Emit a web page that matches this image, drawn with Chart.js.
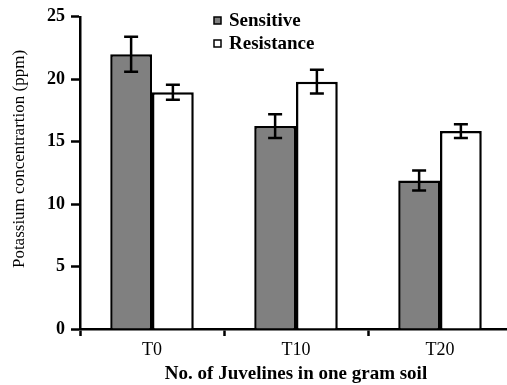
<!DOCTYPE html>
<html>
<head>
<meta charset="utf-8">
<script src="https://cdn.jsdelivr.net/npm/chart.js@4/dist/chart.umd.min.js"></script>
<style>
  html, body { margin: 0; padding: 0; background: #fff; overflow: hidden; }
  canvas { display: block; }
</style>
</head>
<body>
<canvas id="chart" width="512" height="385"></canvas>
<script>
(function() {
    'use strict';

    // ============================================================================
    // DATA
    // ============================================================================

    var categories = ['T0', 'T10', 'T20'];
    var sensitiveValues = [22.0, 16.25, 11.9];
    var sensitiveErrors = [1.4, 0.95, 0.8];
    var resistanceValues = [18.95, 19.8, 15.85];
    var resistanceErrors = [0.6, 0.95, 0.55];
    var yTicks = [0, 5, 10, 15, 20, 25];
    var yTitle = 'Potassium concentrartion (ppm)';

    var SERIF = '"Liberation Serif", "Times New Roman", serif';

    // ============================================================================
    // PLUGINS
    // ============================================================================

    // error bars drawn from the errors array attached to each dataset
    var errorBarPlugin = {
        id: 'errorBars',
        afterDatasetsDraw: function(chart) {
            var ctx = chart.ctx;
            var yScale = chart.scales.y;
            ctx.save();
            ctx.strokeStyle = '#000';
            ctx.lineWidth = 2.5;
            chart.data.datasets.forEach(function(ds, i) {
                var meta = chart.getDatasetMeta(i);
                meta.data.forEach(function(bar, j) {
                    var v = ds.data[j], e = ds.errors[j];
                    var top = yScale.getPixelForValue(v + e);
                    var bot = yScale.getPixelForValue(v - e);
                    var half = 7;
                    ctx.beginPath();
                    ctx.moveTo(bar.x, top); ctx.lineTo(bar.x, bot);
                    ctx.moveTo(bar.x - half, top); ctx.lineTo(bar.x + half, top);
                    ctx.moveTo(bar.x - half, bot); ctx.lineTo(bar.x + half, bot);
                    ctx.stroke();
                });
            });
            ctx.restore();
        }
    };

    // small square legend in the upper middle, plus the rotated y title
    var legendPlugin = {
        id: 'boxLegend',
        afterDraw: function(chart) {
            var ctx = chart.ctx;
            ctx.save();
            ctx.font = 'bold 19px ' + SERIF;
            ctx.textBaseline = 'middle';
            chart.data.datasets.forEach(function(ds, i) {
                var y = 21 + i * 23;
                ctx.fillStyle = ds.backgroundColor;
                ctx.fillRect(214, y - 4, 7, 7);
                ctx.strokeStyle = '#000';
                ctx.lineWidth = 1.5;
                ctx.strokeRect(214, y - 4, 7, 7);
                ctx.fillStyle = '#000';
                ctx.fillText(ds.label, 229, y);
            });

            ctx.translate(20, 159);
            ctx.rotate(-Math.PI / 2);
            ctx.font = '17px ' + SERIF;
            ctx.textAlign = 'center';
            ctx.fillText(yTitle, 0, 0);
            ctx.restore();
        }
    };

    // ============================================================================
    // CHART
    // ============================================================================

    new Chart(document.getElementById('chart'), {
        type: 'bar',
        data: {
            labels: categories,
            datasets: [
                {
                    label: 'Sensitive',
                    data: sensitiveValues,
                    errors: sensitiveErrors,
                    backgroundColor: '#808080',
                    borderColor: '#000',
                    borderWidth: 2.5
                },
                {
                    label: 'Resistance',
                    data: resistanceValues,
                    errors: resistanceErrors,
                    backgroundColor: '#ffffff',
                    borderColor: '#000',
                    borderWidth: 2.5
                }
            ]
        },
        options: {
            responsive: false,
            animation: false,
            categoryPercentage: 0.58,
            barPercentage: 1.0,
            layout: { padding: { top: 16, right: 0, left: 0, bottom: 0 } },
            plugins: {
                legend: { display: false },
                tooltip: { enabled: false }
            },
            scales: {
                x: {
                    offset: true,
                    grid: {
                        offset: true,
                        drawOnChartArea: false,
                        drawTicks: true,
                        tickLength: 7,
                        tickWidth: 2.5,
                        color: '#000'
                    },
                    border: { color: '#000', width: 2.5 },
                    ticks: {
                        color: '#000',
                        padding: 3,
                        font: { family: SERIF, size: 18 }
                    },
                    title: {
                        display: true,
                        text: 'No. of Juvelines in one gram soil',
                        color: '#000',
                        padding: { top: 1, bottom: 0 },
                        font: { family: SERIF, size: 19, weight: 'bold' }
                    },
                    afterFit: function(scale) { scale.height = 56; }
                },
                y: {
                    min: 0,
                    max: 25,
                    afterBuildTicks: function(scale) {
                        scale.ticks = yTicks.map(function(v) { return { value: v }; });
                    },
                    grid: {
                        drawOnChartArea: false,
                        drawTicks: true,
                        tickLength: 9,
                        tickWidth: 2.5,
                        color: '#000'
                    },
                    border: { color: '#000', width: 2.5 },
                    ticks: {
                        color: '#000',
                        padding: 6,
                        font: { family: SERIF, size: 18, weight: 'bold' }
                    },
                    afterFit: function(scale) { scale.width = 80; }
                }
            }
        },
        plugins: [errorBarPlugin, legendPlugin]
    });
})();
</script>
</body>
</html>
